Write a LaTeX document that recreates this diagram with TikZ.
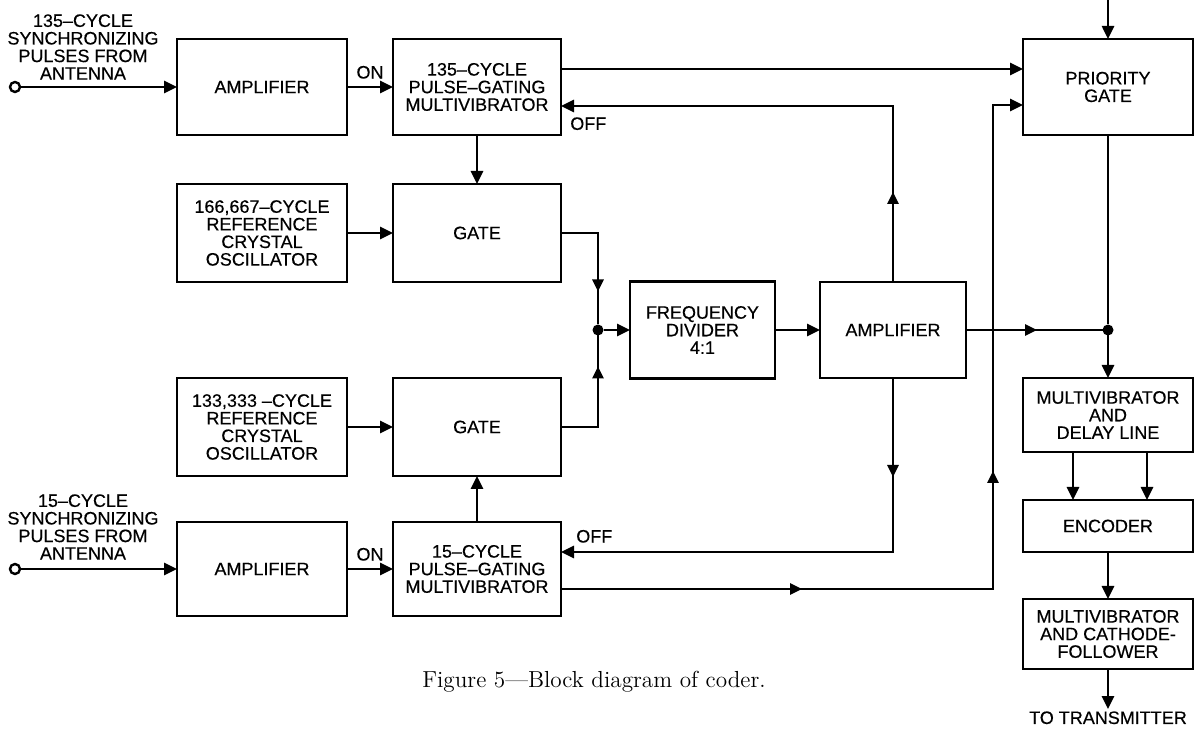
\documentclass[tikz,border=0pt]{standalone}
\usepackage{fontspec}
\newfontfamily\letterface{Liberation Sans}[FakeBold=0.4]
\newcommand{\blkfont}{\letterface\fontsize{9}{8.8}\selectfont}
\usetikzlibrary{arrows.meta, positioning, decorations.markings}

\begin{document}
\begin{tikzpicture}[
        x=0.5pt, y=-0.5pt,
        box/.style = {draw, rectangle, line width=1.3pt, inner sep=0pt, outer sep=0pt, align=center, font=\blkfont},
        colA/.style = {box, minimum width=85pt},
        colB/.style = {box, minimum width=84pt},
        colC/.style = {box, minimum width=85pt},
        wire/.style = {line width=1.3pt},
        arrow/.style = {wire, -{Triangle[length=6.5pt, width=6pt]}},
        midarrow/.style = {postaction={decorate, decoration={markings, mark=at position #1 with {\arrow{Triangle[length=6pt, width=5.5pt]}}}}},
        jdot/.style = {circle, fill, inner sep=0pt, outer sep=0pt, minimum size=5.5pt},
        port/.style = {circle, draw, line width=1.2pt, fill=white, inner sep=0pt, minimum size=5pt},
        lbl/.style = {font=\blkfont, align=center, inner sep=1pt}
    ]

        \useasboundingbox (0,0) rectangle (1194,731);

        % left half
        \node (amptop) [colA, minimum height=48pt] at (262,87) {AMPLIFIER};
        \node (pgmtop) [colB, minimum height=48pt, right=23pt of amptop] {135–CYCLE\\PULSE–GATING\\MULTIVIBRATOR};
        \node (gatetop) [colB, minimum height=49pt, below=24.5pt of pgmtop] {GATE};
        \node (osctop) [colA, minimum height=49pt, left=23pt of gatetop] {166,667–CYCLE\\REFERENCE\\CRYSTAL\\OSCILLATOR};
        \node (gatebot) [colB, minimum height=49pt, below=48pt of gatetop] {GATE};
        \node (oscbot) [colA, minimum height=49pt, left=23pt of gatebot] {133,333 –CYCLE\\REFERENCE\\CRYSTAL\\OSCILLATOR};
        \node (pgmbot) [colB, minimum height=47pt, below=23pt of gatebot] {15–CYCLE\\PULSE–GATING\\MULTIVIBRATOR};
        \node (ampbot) [colA, minimum height=47pt, left=23pt of pgmbot] {AMPLIFIER};

        \node (in1) [port] at (15,87) {};
        \node (in2) [port] at (ampbot -| in1) {};
        \node (srctop) [lbl] at (83,47) {135–CYCLE\\SYNCHRONIZING\\PULSES FROM\\ANTENNA};
        \node (srcbot) [lbl] at (83,527) {15–CYCLE\\SYNCHRONIZING\\PULSES FROM\\ANTENNA};

        % middle
        \node (freqdiv) [box, minimum width=72.5pt, minimum height=48.5pt] at (702.5,330) {FREQUENCY\\DIVIDER\\4:1};
        \node (ampmid) [box, minimum width=73pt, minimum height=48pt, right=22.5pt of freqdiv] {AMPLIFIER};
        \node (j1) [jdot, left=13.25pt of freqdiv] {};

        % right column
        \node (prio) [colC, minimum height=48pt] at (1108,87) {PRIORITY\\GATE};
        \node (mvdl) [colC, minimum height=37pt, below=121.5pt of prio] {MULTIVIBRATOR\\AND\\DELAY LINE};
        \node (enc) [colC, minimum height=26pt, below=24pt of mvdl] {ENCODER};
        \node (mvcf) [colC, minimum height=35pt, below=23.5pt of enc] {MULTIVIBRATOR\\AND CATHODE-\\FOLLOWER};
        \node (totx) [lbl, below=20pt of mvcf] {TO TRANSMITTER};
        \node (j2) [jdot] at (prio.south |- ampmid.east) {};
        \coordinate (fromtop) at (1108,0);
        \coordinate (bus) at (993,330);

        \node (caption) [anchor=base, font=\fontsize{11.6}{14}\selectfont] at (594,687) {Figure 5—Block diagram of coder.};

        % connectors
        \draw [arrow] (in1) -- (amptop);
        \draw [arrow] (amptop) -- node[above=2.5pt, lbl] {ON} (pgmtop);
        \draw [arrow] (pgmtop) -- (gatetop);
        \draw [arrow] (osctop) -- (gatetop);
        \draw [arrow] ([yshift=9pt]pgmtop.east) -- ([yshift=9pt]pgmtop.east -| prio.west);
        \draw [arrow, midarrow=45pt] (ampmid.north) |- ([yshift=-9.5pt]pgmtop.east)
            node[pos=1, lbl, anchor=north west, xshift=3pt, yshift=-4pt] {OFF};
        \draw [wire, midarrow=-16.5pt] (gatetop) -| (j1);
        \draw [wire, midarrow=-15.5pt] (gatebot) -| (j1);
        \draw [arrow] (j1) -- (freqdiv);
        \draw [arrow] (freqdiv) -- (ampmid);
        \draw [wire, midarrow=35.5pt] (ampmid) -- (j2);
        \draw [arrow] (fromtop) -- (prio);
        \draw [wire] (prio) -- (j2);
        \draw [arrow] (j2) -- (mvdl);
        \draw [arrow] ([xshift=-17.5pt]mvdl.south) -- ([xshift=-17.5pt]enc.north);
        \draw [arrow] ([xshift=19.5pt]mvdl.south) -- ([xshift=19.5pt]enc.north);
        \draw [arrow] (enc) -- (mvcf);
        \draw [arrow] (mvcf) -- (totx);
        \draw [arrow, midarrow=49.5pt] (ampmid.south) |- ([yshift=8.5pt]pgmbot.east)
            node[pos=1, lbl, anchor=south west, xshift=6pt, yshift=3pt] {OFF};
        \draw [arrow, midarrow=120.5pt, midarrow=275pt] ([yshift=-10pt]pgmbot.east) -| (bus) |- ([yshift=-9pt]prio.west);
        \draw [arrow] (pgmbot) -- (gatebot);
        \draw [arrow] (oscbot) -- (gatebot);
        \draw [arrow] (in2) -- (ampbot);
        \draw [arrow] (ampbot) -- node[above=2.5pt, lbl] {ON} (pgmbot);

    \end{tikzpicture}
\end{document}
